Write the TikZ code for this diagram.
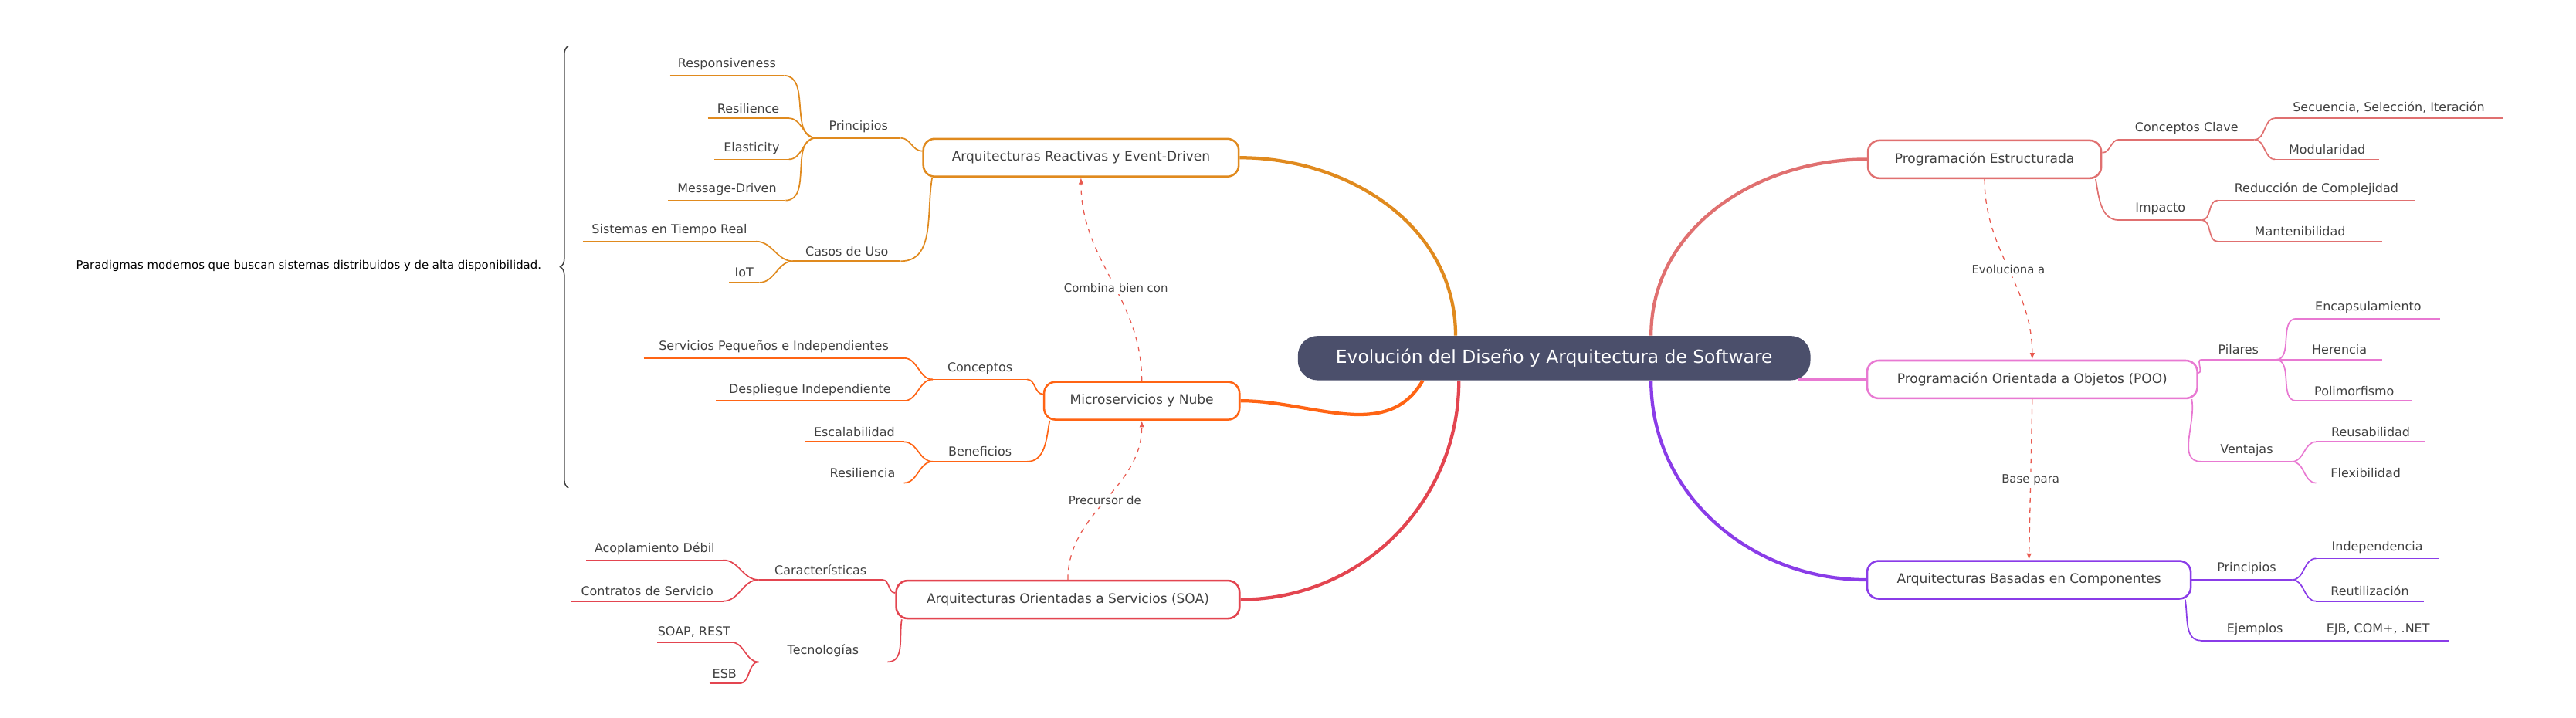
\documentclass[tikz,border=0pt]{standalone}
\usepackage{fontspec}
\setmainfont{DejaVu Sans}
\usetikzlibrary{calc,arrows.meta,decorations.pathreplacing}
\definecolor{hub}{HTML}{4B4F6B}
\definecolor{ink}{HTML}{404040}
\definecolor{cRea}{HTML}{E08A1E}
\definecolor{cMic}{HTML}{FF6414}
\definecolor{cSoa}{HTML}{E34550}
\definecolor{cEst}{HTML}{E07070}
\definecolor{cPoo}{HTML}{E879D2}
\definecolor{cCom}{HTML}{8A3CE8}
\definecolor{rel}{HTML}{E85A50}
\tikzset{
  topic/.style={draw,line width=1.2pt,rounded corners=7pt,fill=white,minimum height=23pt,
    text=ink,font=\fontsize{8}{9}\selectfont},
  leaf/.style={anchor=south,inner xsep=0pt,inner ysep=3pt,text=ink,font=\fontsize{7.5}{9}\selectfont},
  trunk/.style={line width=2pt},
  twig/.style={line width=0.8pt},
  relation/.style={rel,dashed,line width=0.6pt,-{Latex[length=4pt,width=3pt]}},
  rellabel/.style={fill=white,inner sep=1pt,text=ink,font=\fontsize{7}{8}\selectfont}
}
\newcommand\lf[5]{\node[leaf,minimum width={#3pt-#2pt}] (#1) at ({(#2+#3)/2},#4) {#5};}
\newcommand\ul[2]{\draw[twig,#1] (#2.south west) -- (#2.south east);}
\begin{document}
\begin{tikzpicture}[x=1pt,y=-1pt]
  \useasboundingbox (0,0) rectangle (1568,437);
  % centre
  \node[fill=hub,rounded corners=12pt,minimum width=312pt,minimum height=27pt,text=white,
    font=\fontsize{11}{13}\selectfont] (ctr) at (946,218) {Evolución del Diseño y Arquitectura de Software};
  % main topics
  \node[topic,draw=cRea,minimum width=192pt] (rea) at (658,96) {Arquitecturas Reactivas y Event-Driven};
  \node[topic,draw=cMic,minimum width=119pt] (mic) at (695,244) {Microservicios y Nube};
  \node[topic,draw=cSoa,minimum width=209pt] (soa) at (650,365) {Arquitecturas Orientadas a Servicios (SOA)};
  \node[topic,draw=cEst,minimum width=142pt] (est) at (1208,97) {Programación Estructurada};
  \node[topic,draw=cPoo,minimum width=201pt] (poo) at (1237,231) {Programación Orientada a Objetos (POO)};
  \node[topic,draw=cCom,minimum width=197pt] (com) at (1235,353) {Arquitecturas Basadas en Componentes};
  \begin{scope}[on background layer/.style={}]
  \draw[trunk,cRea] ($(ctr.north)+(-60,0)$) to[out=90,in=0] (rea.east);
  \draw[trunk,cMic] ($(ctr.south)+(-80,0)$) to[out=-120,in=0] (mic.east);
  \draw[trunk,cSoa] ($(ctr.south)+(-58,0)$) to[out=-90,in=0] (soa.east);
  \draw[trunk,cEst] ($(ctr.north)+(59,0)$) to[out=90,in=180] (est.west);
  \draw[trunk,cPoo] ($(ctr.east)+(-8,13)$) to[out=0,in=180] (poo.west);
  \draw[trunk,cCom] ($(ctr.south)+(59,0)$) to[out=-90,in=180] (com.west);
  \end{scope}
  % reactive branch
  \lf{rPri}{497}{548}{84}{Principios}
  \lf{rRes}{408}{477}{46}{Responsiveness}
  \lf{rRel}{431}{480}{72}{Resilience}
  \lf{rEla}{435}{480}{97}{Elasticity}
  \lf{rMsg}{407}{478}{122}{Message-Driven}
  \lf{rCas}{483}{548}{159}{Casos de Uso}
  \lf{rSis}{355}{460}{147}{Sistemas en Tiempo Real}
  \lf{rIot}{444}{462}{172}{IoT}
  \foreach \n in {rPri,rRes,rRel,rEla,rMsg,rCas,rSis,rIot} {\ul{cRea}{\n}}
  \draw[twig,cRea] ($(rea.west)+(0,-4)$) to[out=180,in=0] (rPri.south east);
  \draw[twig,cRea] ($(rea.south west)+(6,0)$) to[out=-100,in=0] (rCas.south east);
  \foreach \n in {rRes,rRel,rEla,rMsg} {\draw[twig,cRea] (rPri.south west) to[out=180,in=0] (\n.south east);}
  \foreach \n in {rSis,rIot} {\draw[twig,cRea] (rCas.south west) to[out=180,in=0] (\n.south east);}
  % microservices branch
  \lf{mCon}{568}{625}{231}{Conceptos}
  \lf{mSer}{392}{550}{218}{Servicios Pequeños e Independientes}
  \lf{mDes}{436}{550}{244}{Despliegue Independiente}
  \lf{mBen}{568}{625}{281}{Beneficios}
  \lf{mEsc}{490}{550}{269}{Escalabilidad}
  \lf{mRes}{500}{550}{294}{Resiliencia}
  \foreach \n in {mCon,mSer,mDes,mBen,mEsc,mRes} {\ul{cMic}{\n}}
  \draw[twig,cMic] ($(mic.west)+(0,-4)$) to[out=180,in=0] (mCon.south east);
  \draw[twig,cMic] ($(mic.south west)+(4,0)$) to[out=-100,in=0] (mBen.south east);
  \foreach \n in {mSer,mDes} {\draw[twig,cMic] (mCon.south west) to[out=180,in=0] (\n.south east);}
  \foreach \n in {mEsc,mRes} {\draw[twig,cMic] (mBen.south west) to[out=180,in=0] (\n.south east);}
  % SOA branch
  \lf{sCar}{462}{537}{353}{Características}
  \lf{sAco}{357}{440}{341}{Acoplamiento Débil}
  \lf{sCon}{348}{440}{366}{Contratos de Servicio}
  \lf{sTec}{462}{540}{403}{Tecnologías}
  \lf{sSoa}{400}{445}{391}{SOAP, REST}
  \lf{sEsb}{432}{450}{416}{ESB}
  \foreach \n in {sCar,sAco,sCon,sTec,sSoa,sEsb} {\ul{cSoa}{\n}}
  \draw[twig,cSoa] ($(soa.west)+(0,-4)$) to[out=180,in=0] (sCar.south east);
  \draw[twig,cSoa] ($(soa.south west)+(4,0)$) to[out=-100,in=0] (sTec.south east);
  \foreach \n in {sAco,sCon} {\draw[twig,cSoa] (sCar.south west) to[out=180,in=0] (\n.south east);}
  \foreach \n in {sSoa,sEsb} {\draw[twig,cSoa] (sTec.south west) to[out=180,in=0] (\n.south east);}
  % structured programming branch
  \lf{eCla}{1290}{1372}{85}{Conceptos Clave}
  \lf{eSec}{1385}{1523}{72}{Secuencia, Selección, Iteración}
  \lf{eMod}{1385}{1448}{97}{Modularidad}
  \lf{eImp}{1290}{1340}{134}{Impacto}
  \lf{eRed}{1350}{1470}{122}{Reducción de Complejidad}
  \lf{eMan}{1350}{1450}{147}{Mantenibilidad}
  \foreach \n in {eCla,eSec,eMod,eImp,eRed,eMan} {\ul{cEst}{\n}}
  \draw[twig,cEst] ($(est.east)+(0,-4)$) to[out=0,in=180] (eCla.south west);
  \draw[twig,cEst] ($(est.south east)+(-4,0)$) to[out=-80,in=180] (eImp.south west);
  \foreach \n in {eSec,eMod} {\draw[twig,cEst] (eCla.south east) to[out=0,in=180] (\n.south west);}
  \foreach \n in {eRed,eMan} {\draw[twig,cEst] (eImp.south east) to[out=0,in=180] (\n.south west);}
  % object oriented branch
  \lf{pPil}{1340}{1385}{219}{Pilares}
  \lf{pEnc}{1398}{1485}{194}{Encapsulamiento}
  \lf{pHer}{1398}{1450}{219}{Herencia}
  \lf{pPol}{1398}{1468}{244}{Polimorfismo}
  \lf{pVen}{1340}{1395}{281}{Ventajas}
  \lf{pReu}{1410}{1476}{269}{Reusabilidad}
  \lf{pFle}{1410}{1470}{294}{Flexibilidad}
  \foreach \n in {pPil,pEnc,pHer,pPol,pVen,pReu,pFle} {\ul{cPoo}{\n}}
  \draw[twig,cPoo] ($(poo.east)+(0,-4)$) to[out=0,in=180] (pPil.south west);
  \draw[twig,cPoo] ($(poo.south east)+(-4,0)$) to[out=-80,in=180] (pVen.south west);
  \foreach \n in {pEnc,pHer,pPol} {\draw[twig,cPoo] (pPil.south east) to[out=0,in=180] (\n.south west);}
  \foreach \n in {pReu,pFle} {\draw[twig,cPoo] (pVen.south east) to[out=0,in=180] (\n.south west);}
  % component branch
  \lf{cPri}{1340}{1395}{353}{Principios}
  \lf{cInd}{1410}{1484}{340}{Independencia}
  \lf{cReu}{1410}{1475}{366}{Reutilización}
  \lf{cEje}{1340}{1405}{390}{Ejemplos}
  \lf{cEjb}{1405}{1490}{390}{EJB, COM+, .NET}
  \foreach \n in {cPri,cInd,cReu,cEje,cEjb} {\ul{cCom}{\n}}
  \draw[twig,cCom] (com.east) to[out=0,in=180] (cPri.south west);
  \draw[twig,cCom] ($(com.south east)+(-4,0)$) to[out=-80,in=180] (cEje.south west);
  \foreach \n in {cInd,cReu} {\draw[twig,cCom] (cPri.south east) to[out=0,in=180] (\n.south west);}
  % relations
  \draw[relation] (mic.north) to[out=90,in=-90] node[rellabel,pos=0.45] {Combina bien con} (rea.south);
  \draw[relation] (soa.north) to[out=90,in=-90] node[rellabel,pos=0.5] {Precursor de} (mic.south);
  \draw[relation] (est.south) to[out=-90,in=90] node[rellabel,pos=0.5] {Evoluciona a} (poo.north);
  \draw[relation] (poo.south) -- node[rellabel,pos=0.5] {Base para} (com.north);
  % summary brace
  \draw[ink,line width=0.7pt,decorate,decoration={brace,amplitude=5pt}] (346,297) -- (346,28)
    coordinate[pos=0.5] (brmid);
  \node[anchor=east,text=black,font=\fontsize{7}{8}\selectfont] (brl) at (333,162)
    {Paradigmas modernos que buscan sistemas distribuidos y de alta disponibilidad.};
\end{tikzpicture}
\end{document}
